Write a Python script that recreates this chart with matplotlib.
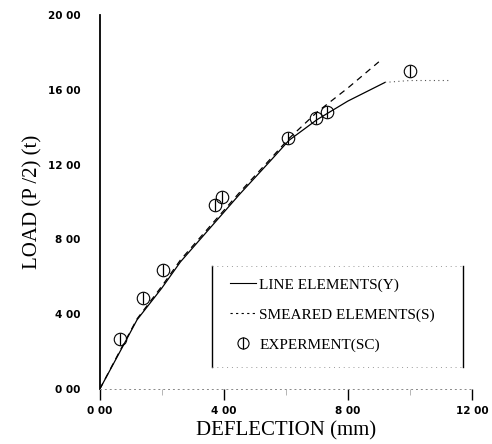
import matplotlib
matplotlib.use("Agg")
import matplotlib.pyplot as plt
from matplotlib.lines import Line2D

# line elements (Y) - solid part and flat tail
line_x = [0, 0.65, 1.2, 2.0, 2.6, 3.55, 4.5, 5.5, 6.1, 7.0, 8.0, 9.2]
line_y = [0, 2.0, 3.7, 5.4, 6.8, 8.6, 10.4, 12.2, 13.3, 14.4, 15.4, 16.4]
tail_x = [9.2, 10.0, 11.3]
tail_y = [16.4, 16.5, 16.5]

# smeared elements (S)
smear_x = [0, 0.65, 1.2, 2.0, 2.6, 3.55, 4.5, 5.5, 6.1, 7.0, 8.0, 9.0]
smear_y = [0, 2.05, 3.75, 5.5, 6.9, 8.7, 10.5, 12.3, 13.4, 14.8, 16.1, 17.5]

# experiment (SC)
exp_x = [0.65, 1.39, 2.03, 3.71, 3.94, 6.06, 6.97, 7.32, 10.0]
exp_y = [2.67, 4.87, 6.36, 9.84, 10.27, 13.4, 14.5, 14.8, 17.0]

xticks = [0, 4, 8, 12]
yticks = [0, 4, 8, 12, 16, 20]
xtick_labels = ["0 00", "4 00", "8 00", "12 00"]
ytick_labels = ["0 00", "4 00", "8 00", "12 00", "16 00", "20 00"]

fig = plt.figure(figsize=(4.92, 4.44), dpi=100)
ax = fig.add_axes([0.203, 0.124, 0.756, 0.842])

ax.plot(line_x, line_y, color="black", lw=0.9)
ax.plot(tail_x, tail_y, color="#555555", lw=0.8, ls=(0, (1, 3)))
ax.plot(smear_x, smear_y, color="black", lw=0.9, ls=(0, (5, 4)))
# circle-with-bar marker
ax.plot(exp_x, exp_y, ls="none", marker="o", ms=9, mfc="none",
        mec="black", mew=0.8)
ax.plot(exp_x, exp_y, ls="none", marker="|", ms=9, mec="black", mew=0.9)

ax.set_xlim(0, 12)
ax.set_ylim(0, 20)
ax.set_xticks(xticks)
ax.set_xticklabels(xtick_labels)
ax.set_yticks(yticks)
ax.set_yticklabels(ytick_labels)
ax.set_xticks([2, 6, 10], minor=True)
ax.tick_params(axis="x", direction="out", length=8, width=1.0, pad=4,
               labelsize=7.5)
ax.tick_params(axis="x", which="minor", length=4, width=0.5, color="#999999")
ax.tick_params(axis="y", length=0, pad=14, labelsize=7.5)
for lbl in ax.get_xticklabels() + ax.get_yticklabels():
    lbl.set_fontweight("bold")
    lbl.set_family("DejaVu Sans")

for side in ["top", "right"]:
    ax.spines[side].set_visible(False)
ax.spines["left"].set_linewidth(1.3)
ax.spines["bottom"].set_linestyle((0, (1, 4)))
ax.spines["bottom"].set_linewidth(0.7)
ax.spines["bottom"].set_color("#888888")

ax.set_xlabel("DEFLECTION (mm)", family="Liberation Serif", fontsize=15,
              labelpad=4)
ax.set_ylabel("LOAD (P /2) (t)", family="Liberation Serif", fontsize=15,
              labelpad=4)

# legend with hand-drawn frame (solid sides, dotted top/bottom)
circ = Line2D([], [], ls="none", marker="o", ms=8, mfc="none", mec="black",
              mew=0.8)
bar = Line2D([], [], ls="none", marker="|", ms=8, mec="black", mew=0.9)
handles = [
    Line2D([], [], color="black", lw=0.8),
    Line2D([], [], color="black", lw=0.8, ls=(0, (2, 3))),
    (circ, bar),
]
labels = ["LINE ELEMENTS(Y)", "SMEARED ELEMENTS(S)", "EXPERMENT(SC)"]
leg = ax.legend(handles, labels, loc="upper left",
                bbox_to_anchor=(0.35, 0.297), frameon=False,
                prop={"family": "Liberation Serif", "size": 11},
                handlelength=1.7, handletextpad=0.2, labelspacing=1.05,
                borderpad=0, borderaxespad=0)

x0, x1, y0, y1 = 0.302, 0.975, 0.058, 0.33
ax.plot([x0, x0], [y0, y1], transform=ax.transAxes, color="black", lw=1.0,
        clip_on=False)
ax.plot([x1, x1], [y0, y1], transform=ax.transAxes, color="black", lw=1.0,
        clip_on=False)
ax.plot([x0, x1], [y1, y1], transform=ax.transAxes, color="#999999", lw=0.7,
        ls=(0, (1, 4)), clip_on=False)
ax.plot([x0, x1], [y0, y0], transform=ax.transAxes, color="#999999", lw=0.7,
        ls=(0, (1, 4)), clip_on=False)

fig.savefig("out.png", dpi=100)
